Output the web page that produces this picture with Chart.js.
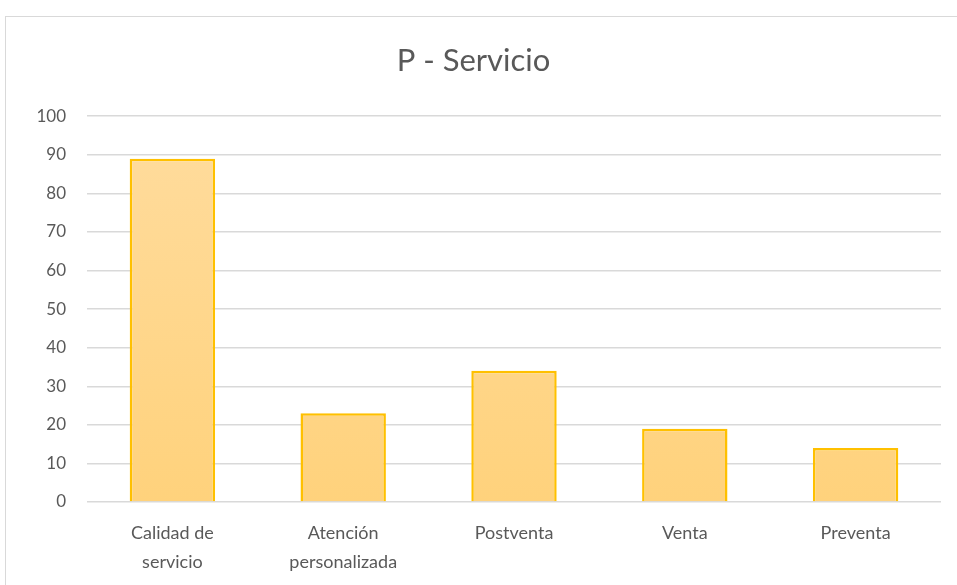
<!DOCTYPE html>
<html>
<head>
<meta charset="utf-8">
<script src="https://cdn.jsdelivr.net/npm/chart.js@4"></script>
<style>
  body { margin: 0; background: #fff; overflow: hidden; }
  #box {
    position: absolute; left: 5px; top: 16px;
    width: 970px; height: 600px;
    border: 1.5px solid #d9d9d9; box-sizing: border-box;
  }
  #wrap { position: absolute; left: 0; top: 0; width: 951px; height: 567px; }
</style>
</head>
<body>
<div id="box"><div id="wrap"><canvas id="chart"></canvas></div></div>
<script>
const categories = [['Calidad de', 'servicio'], ['Atención', 'personalizada'], 'Postventa', 'Venta', 'Preventa'];
const values = [89, 23, 34, 19, 14];
const title_text = 'P - Servicio';

const text_color = '#595959';
const grid_color = '#d9d9d9';
const font_family = 'Lato, "Liberation Sans", sans-serif';

function bar_fill(ctx) {
    const area = ctx.chart.chartArea;
    if (!area) return '#ffd68a';
    const g = ctx.chart.ctx.createLinearGradient(0, area.top, 0, area.bottom);
    g.addColorStop(0, '#ffdc9e');
    g.addColorStop(1, '#ffd27c');
    return g;
}

const config = {
    type: 'bar',
    data: {
        labels: categories,
        datasets: [{
            data: values,
            backgroundColor: bar_fill,
            borderColor: '#ffc000',
            borderWidth: 2.5,
            categoryPercentage: 1.0,
            barPercentage: 0.5
        }]
    },
    options: {
        responsive: true,
        maintainAspectRatio: false,
        animation: false,
        layout: { padding: { left: 0, right: 16, top: 0, bottom: 0 } },
        plugins: {
            legend: { display: false },
            tooltip: { enabled: false },
            title: {
                display: true,
                text: title_text,
                color: text_color,
                font: { family: font_family, size: 31, weight: 'normal' },
                padding: { top: 25, bottom: 37 }
            }
        },
        scales: {
            x: {
                grid: { display: false, drawTicks: false },
                border: { display: false },
                ticks: {
                    color: text_color,
                    font: { family: font_family, size: 18, lineHeight: 1.6 },
                    padding: 17,
                    maxRotation: 0
                },
                afterFit: function(scale) { scale.height = 82; }
            },
            y: {
                min: 0,
                max: 100,
                ticks: {
                    stepSize: 10,
                    color: text_color,
                    font: { family: font_family, size: 17 },
                    padding: 21
                },
                grid: { color: grid_color, lineWidth: 1.5, drawTicks: false },
                border: { display: false },
                afterFit: function(scale) { scale.width = 81; }
            }
        }
    }
};

const chart = new Chart(document.getElementById('chart'), config);
</script>
</body>
</html>
